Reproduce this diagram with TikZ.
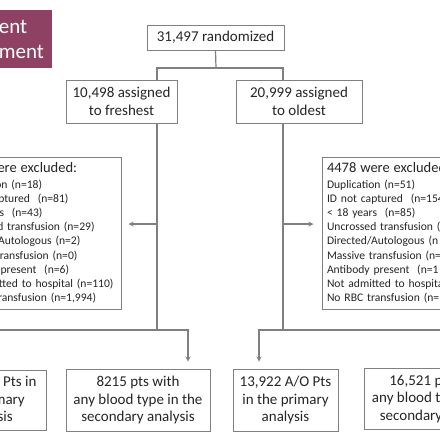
\documentclass[tikz,border=0pt]{standalone}
\usepackage{fontspec}
\setmainfont{Carlito}
\usepackage{tikz}
\usetikzlibrary{calc}
\definecolor{smaroon}{HTML}{8E4162}
\definecolor{sgray}{HTML}{808080}
\definecolor{stext}{HTML}{262626}

\begin{document}
\begin{tikzpicture}[x=1pt, y=-1pt,
    BOX/.style={draw=sgray, line width=1pt, rectangle, inner sep=0pt, align=center, text=stext, font=\fontsize{15}{17.5}\selectfont},
    EXC/.style={draw=sgray, line width=1pt, rectangle, inner xsep=5pt, inner ysep=0pt, text width=162pt, align=left, text=stext, minimum height=152pt, font=\fontsize{11.6}{14.2}\selectfont},
    TAG/.style={fill=smaroon, rectangle, inner sep=0pt, align=center, text=white, font=\fontsize{21}{25}\selectfont},
    LNK/.style={draw=sgray, line width=1.2pt}
    ]
    \useasboundingbox (0,0) rectangle (440,440);
    \clip (0,0) rectangle (440,440);
    \fill[white] (0,0) rectangle (440,440);

    \node[TAG, minimum width=110pt, minimum height=58pt] (T1) at (-3,39) {Patient\\Enrollment};
    \node[BOX, minimum width=137pt, minimum height=25pt] (R1) at (215.5,37.5) {31,497 randomized};
    \node[BOX, minimum width=111pt, minimum height=43pt] (A1) at (121.5,101.5) {10,498 assigned\\to freshest};
    \node[BOX, minimum width=126pt, minimum height=43pt] (A2) at (299,101.5) {20,999 assigned\\to oldest};

    % exclusions
    \node[EXC] (E1) at (35,233) {{\fontsize{14.5}{17}\selectfont 2283 were excluded:}\\[1pt]
        Duplication (n=18)\\ ID not captured~ (n=81)\\ < 18 years~ (n=43)\\
        Uncrossed transfusion (n=29)\\ Directed/Autologous (n=2)\\ Massive transfusion (n=0)\\
        Antibody present~ (n=6)\\ Not admitted to hospital (n=110)\\ No RBC transfusion (n=1,994)};
    \node[EXC] (E2) at (408,233) {{\fontsize{14.5}{17}\selectfont 4478 were excluded:}\\[1pt]
        Duplication (n=51)\\ ID not captured~ (n=154\\ < 18 years~ (n=85)\\
        Uncrossed transfusion (\\ Directed/Autologous (n\\ Massive transfusion (n=\\
        Antibody present~ (n=1\\ Not admitted to hospita\\ No RBC transfusion (n=};

    % analysis boxes
    \node[BOX, minimum width=114pt, minimum height=60pt] (P1) at (-11,400) {6936 A/O Pts in\\the primary\\analysis};
    \node[BOX, minimum width=144pt, minimum height=62pt] (S1) at (138,400) {8215 pts with\\any blood type in the\\secondary analysis};
    \node[BOX, minimum width=105pt, minimum height=62pt] (P2) at (285.5,400) {13,922 A/O Pts\\in the primary\\analysis};
    \node[BOX, minimum width=145pt, minimum height=61pt] (S2) at (436.5,398.5) {16,521 pts with\\any blood type in the\\secondary analysis};

    \coordinate (S0) at (216,68);
    \coordinate (XF) at (157,224);
    \coordinate (XO) at (283,224);
    \coordinate (JF) at (157,330);
    \coordinate (JO) at (283,330);

    \draw[LNK] (R1.south) -- (S0);
    \draw[LNK] ([xshift=35.5pt]A1.north) |- (S0) -| ([xshift=-16pt]A2.north);
    \draw[LNK] ([xshift=35.5pt]A1.south) -- (JF);
    \draw[LNK] ([xshift=-16pt]A2.south) -- (JO);
    \draw[LNK,->,>=stealth,shorten >=7pt] (XF) -- (XF -| E1.east);
    \draw[LNK,->,>=stealth,shorten >=8pt] (XO) -- (XO -| E2.west);
    \draw[LNK,->,>=stealth,shorten >=7pt] (JF) -| (P1.north);
    \draw[LNK,->,>=stealth,shorten >=7pt] (JF) -| ([xshift=50pt]S1.north);
    \draw[LNK,->,>=stealth,shorten >=7pt] (JO) -| ([xshift=-26.5pt]P2.north);
    \draw[LNK,->,>=stealth,shorten >=6pt] (JO) -| ([xshift=20pt]S2.north);
\end{tikzpicture}
\end{document}
